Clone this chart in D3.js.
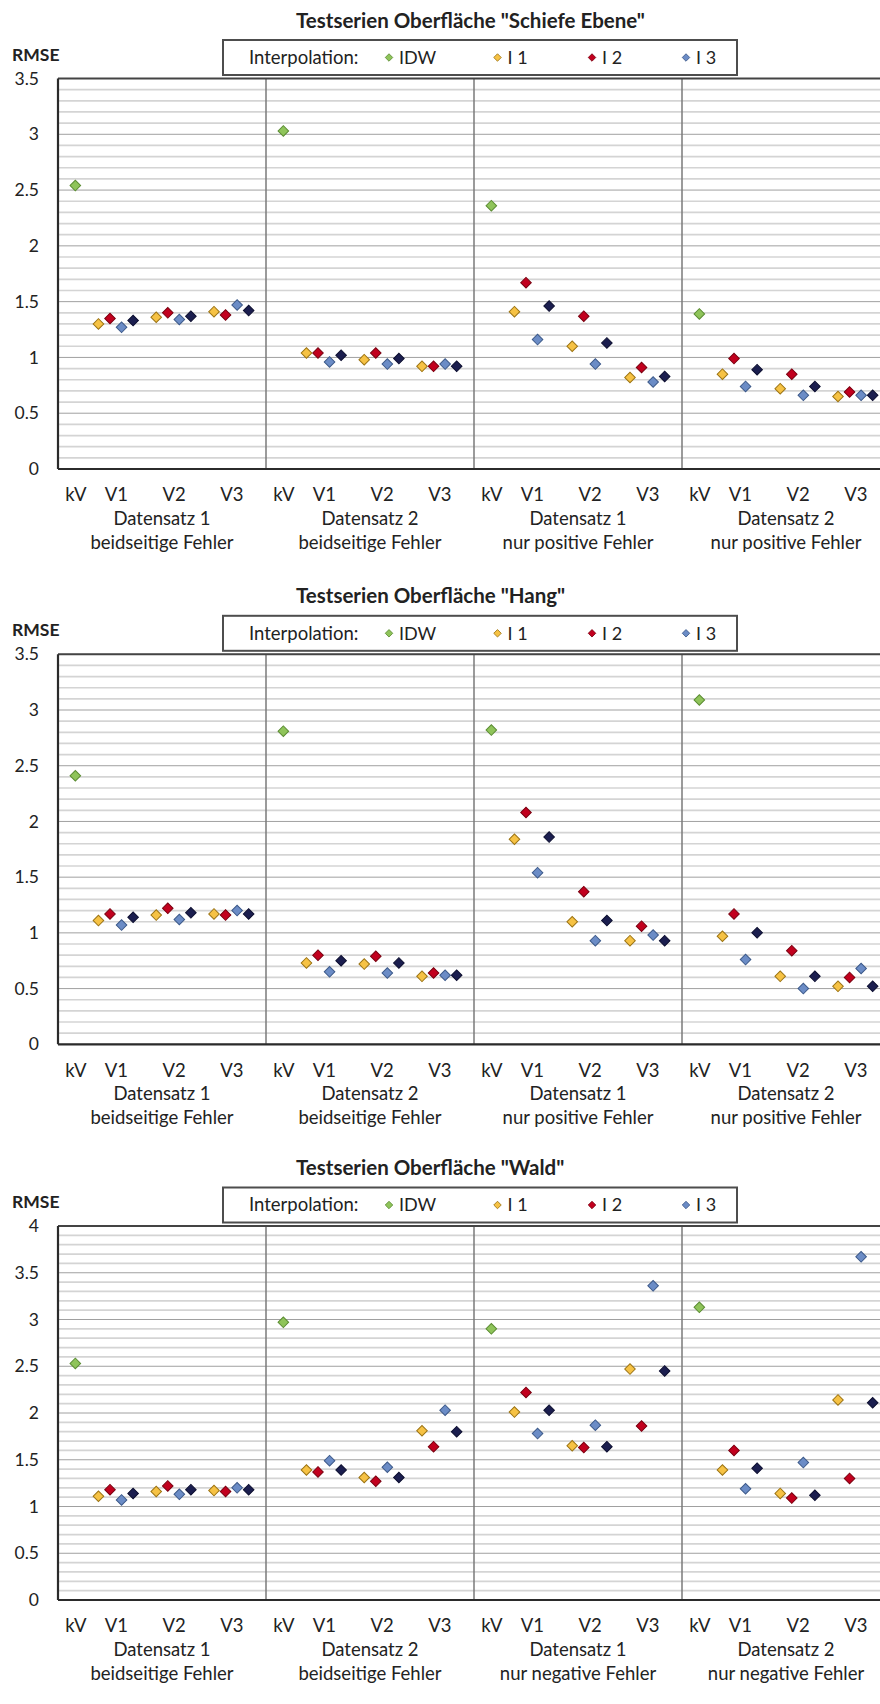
<!DOCTYPE html>
<html>
<head>
<meta charset="utf-8">
<script src="https://cdn.jsdelivr.net/npm/d3@7/dist/d3.min.js"></script>
<style>
  body { margin: 0; background: #fff; }
  text { font-family: Lato, 'Open Sans', sans-serif; fill: #222; }
</style>
</head>
<body>
<svg id="chart" width="880" height="1704"></svg>
<script>
// ---- data ----
const seriesKeys = ['IDW', 'I 1', 'I 2', 'I 3', 'I 4'];
const legendKeys = ['IDW', 'I 1', 'I 2', 'I 3'];
const tickLabels = ['kV', 'V1', 'V2', 'V3'];
const titles = [
    'Testserien Oberfläche "Schiefe Ebene"',
    'Testserien Oberfläche "Hang"',
    'Testserien Oberfläche "Wald"'
];
const groupLine1 = ['Datensatz 1', 'Datensatz 2', 'Datensatz 1', 'Datensatz 2'];
const groupLine2Pos = ['beidseitige Fehler', 'beidseitige Fehler', 'nur positive Fehler', 'nur positive Fehler'];
const groupLine2Neg = ['beidseitige Fehler', 'beidseitige Fehler', 'nur negative Fehler', 'nur negative Fehler'];
const yMaxes = [3.5, 3.5, 4];

// IDW: one value per panel (kV); I 1..I 4: V1,V2,V3 per panel
const ebeneIDW = [2.54, 3.03, 2.36, 1.39];
const ebeneI1 = [1.30, 1.36, 1.41, 1.04, 0.98, 0.92, 1.41, 1.10, 0.82, 0.85, 0.72, 0.65];
const ebeneI2 = [1.35, 1.40, 1.38, 1.04, 1.04, 0.92, 1.67, 1.37, 0.91, 0.99, 0.85, 0.69];
const ebeneI3 = [1.27, 1.34, 1.47, 0.96, 0.94, 0.94, 1.16, 0.94, 0.78, 0.74, 0.66, 0.66];
const ebeneI4 = [1.33, 1.37, 1.42, 1.02, 0.99, 0.92, 1.46, 1.13, 0.83, 0.89, 0.74, 0.66];

const hangIDW = [2.41, 2.81, 2.82, 3.09];
const hangI1 = [1.11, 1.16, 1.17, 0.73, 0.72, 0.61, 1.84, 1.10, 0.93, 0.97, 0.61, 0.52];
const hangI2 = [1.17, 1.22, 1.16, 0.80, 0.79, 0.64, 2.08, 1.37, 1.06, 1.17, 0.84, 0.60];
const hangI3 = [1.07, 1.12, 1.20, 0.65, 0.64, 0.62, 1.54, 0.93, 0.98, 0.76, 0.50, 0.68];
const hangI4 = [1.14, 1.18, 1.17, 0.75, 0.73, 0.62, 1.86, 1.11, 0.93, 1.00, 0.61, 0.52];

const waldIDW = [2.53, 2.97, 2.90, 3.13];
const waldI1 = [1.11, 1.16, 1.17, 1.39, 1.31, 1.81, 2.01, 1.65, 2.47, 1.39, 1.14, 2.14];
const waldI2 = [1.18, 1.22, 1.16, 1.37, 1.27, 1.64, 2.22, 1.63, 1.86, 1.60, 1.09, 1.30];
const waldI3 = [1.07, 1.13, 1.20, 1.49, 1.42, 2.03, 1.78, 1.87, 3.36, 1.19, 1.47, 3.67];
const waldI4 = [1.14, 1.18, 1.18, 1.39, 1.31, 1.80, 2.03, 1.64, 2.45, 1.41, 1.12, 2.11];

const charts = [
    { title: titles[0], yMax: yMaxes[0], line2: groupLine2Pos, idw: ebeneIDW, rest: [ebeneI1, ebeneI2, ebeneI3, ebeneI4] },
    { title: titles[1], yMax: yMaxes[1], line2: groupLine2Pos, idw: hangIDW, rest: [hangI1, hangI2, hangI3, hangI4] },
    { title: titles[2], yMax: yMaxes[2], line2: groupLine2Neg, idw: waldIDW, rest: [waldI1, waldI2, waldI3, waldI4] }
];

// ---- styling ----
const colors = {
    'IDW': { fill: '#8fc45a', stroke: '#5b8c33' },
    'I 1': { fill: '#f6c244', stroke: '#9c7414' },
    'I 2': { fill: '#c2001e', stroke: '#7a0010' },
    'I 3': { fill: '#6b8cc6', stroke: '#3d5a8a' },
    'I 4': { fill: '#1b1e4f', stroke: '#0d0f30' }
};
// plot area top / bottom for each chart
const layout = [
    { top: 78.5, bottom: 469 },
    { top: 654.3, bottom: 1044.3 },
    { top: 1226, bottom: 1600 }
];
const plotLeft = 58;
const slotsPerPanel = 18;
const panelCount = 4;
const panelWidth = 208;

const svg = d3.select('#chart');

// x position inside a panel, in slot units
const kvSlot = 1.5;
const pointSlot = (variant, s) => 3.5 + variant * 5 + s;
const tickSlots = [1.5, 5, 10, 15];

const x = d3.scaleLinear()
    .domain([0, slotsPerPanel * panelCount])
    .range([plotLeft, plotLeft + panelWidth * panelCount]);

const diamond = size => d3.symbol().type(d3.symbolSquare).size(size)();

charts.forEach((chart, ci) => {
    const { top, bottom } = layout[ci];
    const g = svg.append('g').attr('class', 'chart');

    const y = d3.scaleLinear().domain([0, chart.yMax]).range([bottom, top]);

    // gridlines
    const minor = d3.range(0, Math.round(chart.yMax * 10) + 1).map(i => i / 10);
    const major = minor.filter((d, i) => i % 5 === 0);

    g.append('g').selectAll('line')
        .data(minor.filter((d, i) => i % 5 !== 0))
        .join('line')
        .attr('x1', plotLeft).attr('x2', 880)
        .attr('y1', d => y(d)).attr('y2', d => y(d))
        .attr('stroke', '#d4d4d4')
        .attr('stroke-width', 1.7);

    g.append('g').selectAll('line')
        .data(major)
        .join('line')
        .attr('x1', plotLeft).attr('x2', 880)
        .attr('y1', d => y(d)).attr('y2', d => y(d))
        .attr('stroke', '#a0a0a0')
        .attr('stroke-width', 1);

    // panel dividers
    g.append('g').selectAll('line')
        .data(d3.range(1, panelCount))
        .join('line')
        .attr('x1', d => x(d * slotsPerPanel)).attr('x2', d => x(d * slotsPerPanel))
        .attr('y1', top).attr('y2', bottom)
        .attr('stroke', '#7a7a7a')
        .attr('stroke-width', 1.5);

    // frame
    g.append('line').attr('x1', plotLeft).attr('x2', 880).attr('y1', top).attr('y2', top)
        .attr('stroke', '#444').attr('stroke-width', 2);
    g.append('line').attr('x1', plotLeft).attr('x2', 880).attr('y1', bottom).attr('y2', bottom)
        .attr('stroke', '#2b2b2b').attr('stroke-width', 2.2);
    g.append('line').attr('x1', plotLeft).attr('x2', plotLeft).attr('y1', top).attr('y2', bottom)
        .attr('stroke', '#2b2b2b').attr('stroke-width', 2.2);

    // y axis labels
    const yAxis = d3.axisLeft(y)
        .tickValues(major)
        .tickSize(0)
        .tickPadding(19)
        .tickFormat(d => String(+d.toFixed(1)));
    g.append('g')
        .attr('transform', `translate(${plotLeft},0)`)
        .call(yAxis)
        .call(s => s.select('.domain').remove())
        .selectAll('text')
        .style('font-family', null)
        .attr('font-size', 17.5)
        .attr('fill', '#333');

    // x tick labels
    const tickVals = [];
    d3.range(panelCount).forEach(p => tickSlots.forEach(t => tickVals.push(p * slotsPerPanel + t)));
    const xAxis = d3.axisBottom(x)
        .tickValues(tickVals)
        .tickSize(0)
        .tickFormat((d, i) => tickLabels[i % tickLabels.length]);
    g.append('g')
        .attr('transform', `translate(0,${bottom})`)
        .call(xAxis)
        .call(s => s.select('.domain').remove())
        .selectAll('text')
        .style('font-family', null)
        .attr('font-size', 18.5)
        .attr('fill', '#333')
        .attr('y', 26)
        .attr('dy', '0.35em');

    // group labels
    const groupLabels = g.append('g').selectAll('text')
        .data(d3.range(panelCount))
        .join('text')
        .attr('text-anchor', 'middle')
        .attr('font-size', 18.5)
        .attr('x', p => x(p * slotsPerPanel + slotsPerPanel / 2));
    groupLabels.append('tspan')
        .attr('y', bottom + 49.5).attr('dy', '0.35em')
        .text(p => groupLine1[p]);
    groupLabels.append('tspan')
        .attr('x', p => x(p * slotsPerPanel + slotsPerPanel / 2))
        .attr('y', bottom + 73.5).attr('dy', '0.35em')
        .text(p => chart.line2[p]);

    // title and axis caption
    g.append('text')
        .attr('x', 296).attr('y', top - 58).attr('dy', '0.35em')
        .attr('font-size', 20.5).attr('font-weight', 'bold')
        .text(chart.title);
    g.append('text')
        .attr('x', 12).attr('y', top - 24).attr('dy', '0.35em')
        .attr('font-size', 17.5).attr('font-weight', 'bold')
        .text('RMSE');

    // legend
    const legendY = top - 21;
    const legend = g.append('g');
    legend.append('rect')
        .attr('x', 223).attr('y', top - 38.5)
        .attr('width', 514).attr('height', 35)
        .attr('fill', '#fff')
        .attr('stroke', '#4d4d4d').attr('stroke-width', 2);
    legend.append('text')
        .attr('x', 249).attr('y', legendY).attr('dy', '0.35em')
        .attr('font-size', 18.5)
        .text('Interpolation:');
    const legendX = [389, 497.5, 592, 686];
    const items = legend.selectAll('g.item')
        .data(legendKeys)
        .join('g')
        .attr('class', 'item')
        .attr('transform', (d, i) => `translate(${legendX[i]},${legendY})`);
    items.append('path')
        .attr('d', diamond(28))
        .attr('transform', 'rotate(45)')
        .attr('fill', d => colors[d].fill)
        .attr('stroke', d => colors[d].stroke)
        .attr('stroke-width', 0.8);
    items.append('text')
        .attr('x', 10).attr('dy', '0.35em')
        .attr('font-size', 18)
        .text(d => d);

    // points
    const points = [];
    chart.idw.forEach((v, p) => points.push({ key: 'IDW', xv: p * slotsPerPanel + kvSlot, v }));
    chart.rest.forEach((vals, s) => {
        vals.forEach((v, i) => {
            const p = Math.floor(i / 3), variant = i % 3;
            points.push({ key: seriesKeys[s + 1], xv: p * slotsPerPanel + pointSlot(variant, s), v });
        });
    });
    g.append('g').selectAll('path')
        .data(points)
        .join('path')
        .attr('d', diamond(56))
        .attr('transform', d => `translate(${x(d.xv)},${y(d.v)}) rotate(45)`)
        .attr('fill', d => colors[d.key].fill)
        .attr('stroke', d => colors[d.key].stroke)
        .attr('stroke-width', 1);
});
</script>
</body>
</html>
